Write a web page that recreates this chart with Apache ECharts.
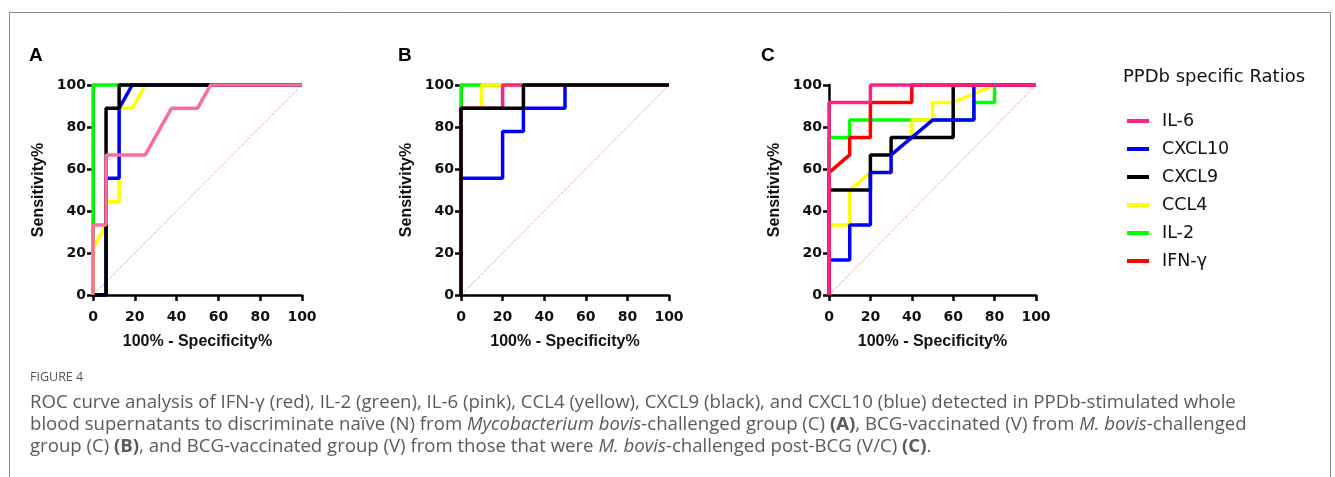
<!DOCTYPE html>
<html>
<head>
<meta charset="utf-8">
<script src="https://cdn.jsdelivr.net/npm/echarts@6/dist/echarts.min.js"></script>
<style>
html, body { margin: 0; padding: 0; background: #fff; }
#main { width: 1335px; height: 477px; }
</style>
</head>
<body>
<div id="main"></div>
<script>
// tick values shared by every axis
var ticks = [0, 20, 40, 60, 80, 100];
var markers = ['IL-6', 'CXCL10', 'CXCL9', 'CCL4', 'IL-2', 'IFN-γ'];
var chanceLine = [[0, 0], [100, 100]];

// panel A : naive (N) vs challenged (C)
var a_IL2 = [[0, 0], [0, 100], [100, 100]];
var a_CCL4 = [[0, 0], [0, 22.2], [6.25, 33.3], [6.25, 44.4], [12.5, 44.4], [12.5, 88.9], [18.75, 88.9], [25, 100], [100, 100]];
var a_CXCL10 = [[0, 0], [6.25, 0], [6.25, 55.6], [12.5, 55.6], [12.5, 88.9], [18.75, 100], [100, 100]];
var a_CXCL9 = [[0, 0], [6.25, 0], [6.25, 88.9], [12.5, 88.9], [12.5, 100], [100, 100]];
var a_IL6 = [[0, 0], [0, 33.3], [6.25, 33.3], [6.25, 66.7], [25, 66.7], [37.5, 88.9], [50, 88.9], [56.25, 100], [100, 100]];

// panel B : vaccinated (V) vs challenged (C)
var b_CXCL10 = [[0, 0], [0, 55.6], [20, 55.6], [20, 77.8], [30, 77.8], [30, 88.9], [50, 88.9], [50, 100], [100, 100]];
var b_IL2 = [[0, 0], [0, 100], [100, 100]];
var b_CCL4 = [[0, 0], [0, 88.9], [10, 88.9], [10, 100], [100, 100]];
var b_IL6 = [[0, 0], [0, 88.9], [20, 88.9], [20, 100], [100, 100]];
var b_CXCL9 = [[0, 0], [0, 88.9], [30, 88.9], [30, 100], [100, 100]];

// panel C : vaccinated (V) vs V/C
var c_IL2 = [[0, 0], [0, 75], [10, 75], [10, 83.3], [70, 83.3], [70, 91.7], [80, 91.7], [80, 100], [100, 100]];
var c_CCL4 = [[0, 0], [0, 33.3], [10, 33.3], [10, 50], [20, 58.3], [30, 58.3], [30, 66.7], [40, 75], [40, 83.3], [50, 83.3], [50, 91.7], [60, 91.7], [80, 100], [100, 100]];
var c_CXCL9 = [[0, 0], [0, 50], [20, 50], [20, 66.7], [30, 66.7], [30, 75], [60, 75], [60, 100], [100, 100]];
var c_CXCL10 = [[0, 0], [0, 16.7], [10, 16.7], [10, 33.3], [20, 33.3], [20, 58.3], [30, 58.3], [30, 66.7], [50, 83.3], [70, 83.3], [70, 100], [100, 100]];
var c_IFNg = [[0, 0], [0, 58.3], [10, 66.7], [10, 75], [20, 75], [20, 91.7], [40, 91.7], [40, 100], [100, 100]];
var c_IL6 = [[0, 0], [0, 91.7], [20, 91.7], [20, 100], [100, 100]];

var colors = {
	'IL-6': '#ff2286',
	'CXCL10': '#0000ff',
	'CXCL9': '#000000',
	'CCL4': '#ffff00',
	'IL-2': '#00ff00',
	'IFN-γ': '#ff0000'
};
var pinkA = '#fb6e9b';

var grids = [
	{ left: 93, top: 85, width: 209, height: 210 },
	{ left: 461, top: 85, width: 208, height: 210 },
	{ left: 829, top: 85, width: 207, height: 210 }
];

function roc(name, idx, data, color) {
	var c = color || colors[name];
	return {
		name: name, type: 'line', xAxisIndex: idx, yAxisIndex: idx,
		data: data, symbol: 'none', showSymbol: false, clip: false, silent: true,
		lineStyle: { color: c, width: 3.5 }, itemStyle: { color: c }
	};
}
function chance(idx) {
	return {
		name: 'chance', type: 'line', xAxisIndex: idx, yAxisIndex: idx,
		data: chanceLine, symbol: 'none', silent: true, z: 1,
		lineStyle: { color: '#e8807f', width: 1, type: 'dotted' }
	};
}

var tickFont = { fontFamily: 'DejaVu Sans', fontWeight: 'bold', fontSize: 14, color: '#111' };
var nameFont = { fontFamily: 'Liberation Sans', fontWeight: 'bold', fontSize: 16, color: '#111' };

function xAx(i) {
	return {
		gridIndex: i, type: 'value', min: ticks[0], max: ticks[ticks.length - 1], interval: 20,
		name: '100% - Specificity%', nameLocation: 'middle', nameGap: 39, nameTextStyle: nameFont,
		axisLine: { show: true, onZero: false, lineStyle: { color: '#000', width: 2.5 } },
		axisTick: { show: true, length: 6, lineStyle: { color: '#000', width: 2.5 } },
		axisLabel: Object.assign({ margin: 15, showMinLabel: true, showMaxLabel: true }, tickFont),
		splitLine: { show: false }
	};
}
function yAx(i) {
	return {
		gridIndex: i, type: 'value', min: ticks[0], max: ticks[ticks.length - 1], interval: 20,
		name: 'Sensitivity%', nameLocation: 'middle', nameGap: 46, nameTextStyle: nameFont,
		axisLine: { show: true, onZero: false, lineStyle: { color: '#000', width: 2.5 } },
		axisTick: { show: true, length: 6, lineStyle: { color: '#000', width: 2.5 } },
		axisLabel: Object.assign({ margin: 7, showMinLabel: true, showMaxLabel: true }, tickFont),
		splitLine: { show: false }
	};
}

var capFont = { fontFamily: 'Open Sans', fontSize: 18.6, fill: '#5a5a5a' };
var rich = {
	i: { fontStyle: 'italic', fontFamily: 'Open Sans', fontSize: 18.6, color: '#5a5a5a' },
	b: { fontWeight: 'bold', fontFamily: 'Open Sans', fontSize: 18.6, color: '#5a5a5a' }
};
function capLine(y, text) {
	return {
		type: 'text', left: 30, top: y, silent: true,
		style: Object.assign({ text: text, rich: rich }, capFont)
	};
}

var letterFont = { fontFamily: 'Liberation Sans', fontWeight: 'bold', fontSize: 19, color: '#000' };

var option = {
	animation: false,
	backgroundColor: '#fff',
	title: [
		{ text: 'A', left: 29, top: 46, padding: 0, textStyle: letterFont },
		{ text: 'B', left: 398, top: 46, padding: 0, textStyle: letterFont },
		{ text: 'C', left: 761, top: 46, padding: 0, textStyle: letterFont },
		{ text: 'PPDb specific Ratios', left: 1123, top: 68, padding: 0,
			textStyle: { fontFamily: 'DejaVu Sans', fontWeight: 'normal', fontSize: 18, color: '#111' } }
	],
	legend: {
		data: markers, orient: 'vertical', left: 1127, top: 111, padding: 0,
		icon: 'rect', itemWidth: 22, itemHeight: 4, itemGap: 8,
		selectedMode: false,
		textStyle: { fontFamily: 'DejaVu Sans', fontSize: 17.5, color: '#111', lineHeight: 20, padding: [0, 0, 0, 8] }
	},
	grid: grids,
	xAxis: [xAx(0), xAx(1), xAx(2)],
	yAxis: [yAx(0), yAx(1), yAx(2)],
	series: [
		chance(0), chance(1), chance(2),
		// panel C first so the legend takes its colours
		roc('IL-2', 2, c_IL2),
		roc('CCL4', 2, c_CCL4),
		roc('CXCL9', 2, c_CXCL9),
		roc('CXCL10', 2, c_CXCL10),
		roc('IFN-γ', 2, c_IFNg),
		roc('IL-6', 2, c_IL6),
		roc('CXCL10', 1, b_CXCL10),
		roc('IL-2', 1, b_IL2),
		roc('CCL4', 1, b_CCL4),
		roc('IL-6', 1, b_IL6),
		roc('CXCL9', 1, b_CXCL9),
		roc('IL-2', 0, a_IL2),
		roc('CCL4', 0, a_CCL4),
		roc('CXCL10', 0, a_CXCL10),
		roc('CXCL9', 0, a_CXCL9),
		roc('IL-6', 0, a_IL6, pinkA)
	],
	graphic: [
		{ type: 'rect', silent: true, shape: { x: 9.5, y: 12.5, width: 1321, height: 480 },
			style: { fill: 'none', stroke: '#888', lineWidth: 1 } },
		{ type: 'text', left: 30, top: 371, silent: true,
			style: { text: 'FIGURE 4', fontFamily: 'Open Sans', fontSize: 12.5, fill: '#555' } },
		capLine(393, 'ROC curve analysis of IFN-γ (red), IL-2 (green), IL-6 (pink), CCL4 (yellow), CXCL9 (black), and CXCL10 (blue) detected in PPDb-stimulated whole'),
		capLine(415, 'blood supernatants to discriminate naïve (N) from {i|Mycobacterium bovis}-challenged group (C) {b|(A)}, BCG-vaccinated (V) from {i|M. bovis}-challenged'),
		capLine(437, 'group (C) {b|(B)}, and BCG-vaccinated group (V) from those that were {i|M. bovis}-challenged post-BCG (V/C) {b|(C)}.')
	]
};

var myChart = echarts.init(document.getElementById('main'));
myChart.setOption(option);
</script>
</body>
</html>
